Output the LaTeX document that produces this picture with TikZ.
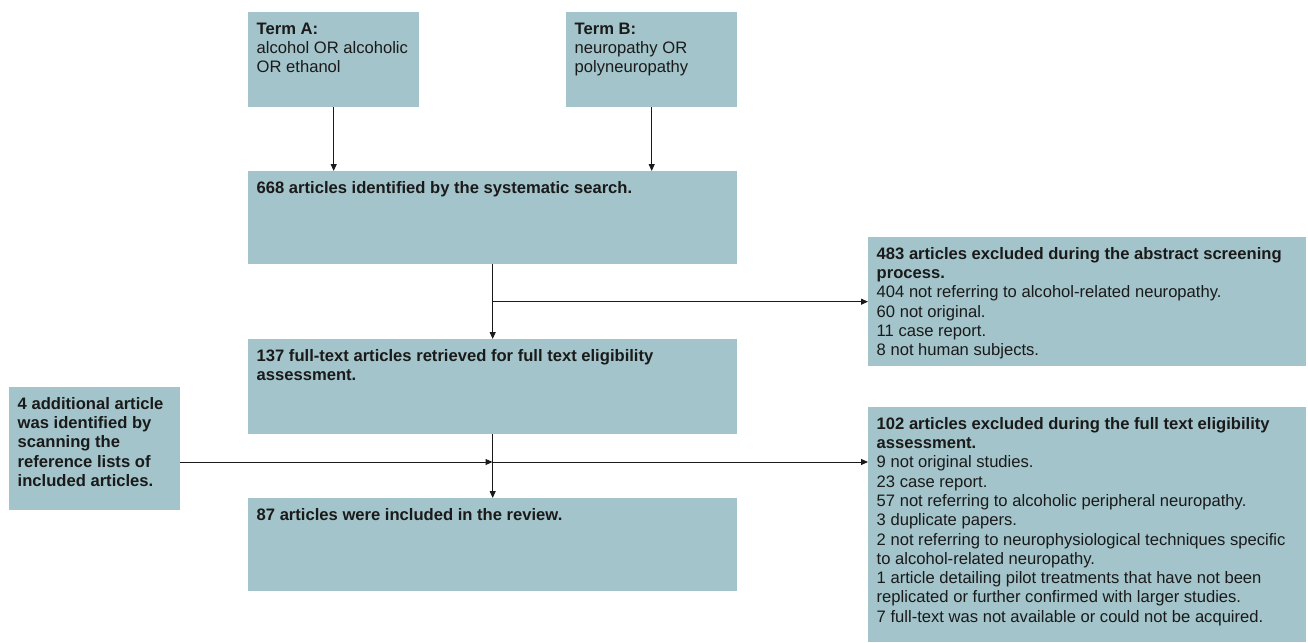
\documentclass[tikz,border=0pt]{standalone}
\usepackage{fontspec}
\setmainfont{Liberation Sans}
\usetikzlibrary{arrows.meta, positioning}

\definecolor{boxfill}{RGB}{162,196,202}
\definecolor{inkgray}{RGB}{26,26,26}
% text block: width, height, lines
\newcommand{\boxtext}[3]{\parbox[c][#2][t]{#1}{\begin{tabular}{@{}l@{}}#3\end{tabular}}}

\tikzset{
  flowbox/.style={fill=boxfill, anchor=north west, inner xsep=8.5pt, inner ysep=8.5pt,
    text=inkgray, font=\fontsize{16.6}{19.3}\selectfont},
  flowarrow/.style={-{Triangle[length=7pt, width=6pt]}, line width=1pt, draw=inkgray}
}

\begin{document}
\begin{tikzpicture}[x=1pt, y=-1pt]
        \useasboundingbox (0,0) rectangle (1308,642);
        % search terms
        \node[flowbox] (termA) at (248,12) {\boxtext{154pt}{78pt}{\textbf{Term A:}\\alcohol OR alcoholic\\OR ethanol}};
        \node[flowbox] (termB) at (566,12) {\boxtext{154pt}{78pt}{\textbf{Term B:}\\neuropathy OR\\polyneuropathy}};
        % main column
        \node[flowbox] (search) at (248,171) {\boxtext{472pt}{76pt}{\textbf{668 articles identified by the systematic search.}}};
        \node[flowbox] (fulltext) at (248,339) {\boxtext{472pt}{78pt}{\textbf{137 full-text articles retrieved for full text eligibility}\\\textbf{assessment.}}};
        \node[flowbox] (included) at (248,498) {\boxtext{472pt}{76pt}{\textbf{87 articles were included in the review.}}};
        % side boxes
        \node[flowbox] (extra) at (9,387) {\boxtext{154pt}{106pt}{\textbf{4 additional article}\\\textbf{was identified by}\\\textbf{scanning the}\\\textbf{reference lists of}\\\textbf{included articles.}}};
        \node[flowbox] (screen) at (868,237) {\boxtext{421pt}{112pt}{\textbf{483 articles excluded during the abstract screening}\\\textbf{process.}\\404 not referring to alcohol-related neuropathy.\\60 not original.\\11 case report.\\8 not human subjects.}};
        \node[flowbox] (fullex) at (868,407) {\boxtext{421pt}{218pt}{\textbf{102 articles excluded during the full text eligibility}\\\textbf{assessment.}\\9 not original studies.\\23 case report.\\57 not referring to alcoholic peripheral neuropathy.\\3 duplicate papers.\\2 not referring to neurophysiological techniques specific\\to alcohol-related neuropathy.\\1 article detailing pilot treatments that have not been\\replicated or further confirmed with larger studies.\\7 full-text was not available or could not be acquired.}};
        % connectors
        \draw[flowarrow] (termA.south) -- (termA.south |- search.north);
        \draw[flowarrow] (termB.south) -- (termB.south |- search.north);
        \draw[flowarrow] (search.south) -- (fulltext.north);
        \draw[flowarrow] (search.south |- screen.west) -- (screen.west);
        \draw[flowarrow] (fulltext.south) -- (included.north);
        \coordinate (cross) at (492.5,462);
        \draw[flowarrow] (cross -| extra.east) -- (cross);
        \draw[flowarrow] (cross) -- (cross -| fullex.west);
\end{tikzpicture}
\end{document}
